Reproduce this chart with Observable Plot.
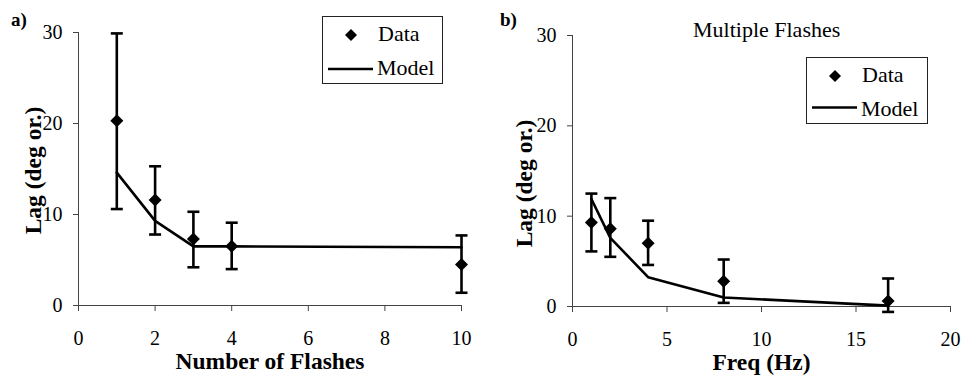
<!DOCTYPE html>
<html>
<head>
<meta charset="utf-8">
<script src="https://cdn.jsdelivr.net/npm/d3@7"></script>
<script src="https://cdn.jsdelivr.net/npm/@observablehq/plot@0.6"></script>
<style>
  body { margin: 0; background: #fff; }
  #wrap { position: relative; width: 963px; height: 379px; font-family: "Liberation Serif", "DejaVu Serif", serif; color: #000; overflow: hidden; }
  .panel { position: absolute; top: 0; }
  .panel svg text { font-family: "Liberation Serif", "DejaVu Serif", serif; }
  .tag { position: absolute; font-weight: bold; font-size: 19px; line-height: 1; }
  .title { position: absolute; font-size: 22px; line-height: 1; white-space: nowrap; }
  .legend { position: absolute; border: 1px solid #222; background: #fff; }
  .legend .row { position: absolute; font-size: 22px; line-height: 1; white-space: nowrap; }
  .legend svg { position: absolute; }
</style>
</head>
<body>
<div id="wrap"></div>
<script>
// ---- Panel a: Number of flashes ----
const flashesN = [1, 2, 3, 4, 10];
const flashesLag = [20.3, 11.6, 7.3, 6.5, 4.5];
const flashesLow = [10.6, 7.8, 4.2, 4.0, 1.4];
const flashesHigh = [29.9, 15.3, 10.3, 9.1, 7.7];
const flashesModel = [14.6, 9.3, 6.5, 6.5, 6.4];
const flashesTicks = [0, 2, 4, 6, 8, 10];

// ---- Panel b: Frequency ----
const freqHz = [1, 2, 4, 8, 16.7];
const freqLag = [9.3, 8.6, 7.0, 2.8, 0.6];
const freqLow = [6.1, 5.5, 4.6, 0.4, -0.6];
const freqHigh = [12.5, 12.0, 9.5, 5.2, 3.1];
const freqModel = [11.9, 7.6, 3.25, 1.0, 0.1];
const freqTicks = [0, 5, 10, 15, 20];

const lagTicks = [0, 10, 20, 30];

const FONT = "'Liberation Serif', 'DejaVu Serif', serif";

const diamondSym = {draw(ctx, size) {
  const r = Math.sqrt(size / Math.PI);
  ctx.moveTo(0, -r); ctx.lineTo(r, 0); ctx.lineTo(0, r); ctx.lineTo(-r, 0); ctx.closePath();
}};
const capSym = {draw(ctx, size) {
  const r = Math.sqrt(size / Math.PI);
  ctx.moveTo(-r, 0); ctx.lineTo(r, 0);
}};

function panel({xs, lag, lo, hi, model, xTicks, xDomain, xLabel, width, margins, yLabelDx, yLabelDy}) {
  const rows = xs.map((x, i) => ({x, lag: lag[i], lo: lo[i], hi: hi[i], model: model[i]}));
  return Plot.plot({
    width, height: 379,
    marginLeft: margins[0], marginRight: margins[1], marginTop: margins[2], marginBottom: margins[3],
    x: {domain: xDomain},
    y: {domain: [0, 30]},
    style: {fontFamily: FONT, fontSize: "20px", color: "#000", background: "#fff", overflow: "visible"},
    marks: [
      Plot.axisX({ticks: xTicks, tickSize: 6, tickPadding: 19, label: null, stroke: "#444", fontSize: 20}),
      Plot.axisY({ticks: lagTicks, tickSize: 5, tickPadding: 11, label: null, stroke: "#444", fontSize: 20}),
      Plot.ruleX([xDomain[0]], {stroke: "#444", strokeWidth: 1}),
      Plot.ruleY([0], {stroke: "#444", strokeWidth: 1}),
      Plot.line(rows, {x: "x", y: "model", stroke: "#000", strokeWidth: 2.6}),
      Plot.ruleX(rows, {x: "x", y1: "lo", y2: "hi", stroke: "#000", strokeWidth: 2.6}),
      Plot.dot(rows, {x: "x", y: "lo", symbol: capSym, r: 6, stroke: "#000", strokeWidth: 2.6, fill: "none"}),
      Plot.dot(rows, {x: "x", y: "hi", symbol: capSym, r: 6, stroke: "#000", strokeWidth: 2.6, fill: "none"}),
      Plot.dot(rows, {x: "x", y: "lag", symbol: diamondSym, r: 6.5, fill: "#000", stroke: "none"}),
      Plot.text([xLabel], {frameAnchor: "bottom", lineAnchor: "middle", textAnchor: "middle", dy: 56, text: d => d, fontWeight: "bold", fontSize: 23.5, fill: "#000"}),
      Plot.text(["Lag (deg or.)"], {frameAnchor: "left", lineAnchor: "middle", textAnchor: "middle", dx: yLabelDx, dy: yLabelDy, rotate: -90, text: d => d, fontWeight: "bold", fontSize: 23.5, fill: "#000"})
    ]
  });
}

const wrap = document.getElementById("wrap");

const pa = document.createElement("div");
pa.className = "panel"; pa.style.left = "0px";
pa.appendChild(panel({xs: flashesN, lag: flashesLag, lo: flashesLow, hi: flashesHigh, model: flashesModel,
  xTicks: flashesTicks, xDomain: [0, 10], xLabel: "Number of Flashes", width: 482, margins: [78, 21, 32, 74],
  yLabelDx: -45.5, yLabelDy: 1.5}));
wrap.appendChild(pa);

const pb = document.createElement("div");
pb.className = "panel"; pb.style.left = "482px";
pb.appendChild(panel({xs: freqHz, lag: freqLag, lo: freqLow, hi: freqHigh, model: freqModel,
  xTicks: freqTicks, xDomain: [0, 20], xLabel: "Freq (Hz)", width: 481, margins: [90, 13, 35, 73],
  yLabelDx: -48.5, yLabelDy: 12.5}));
wrap.appendChild(pb);

function addTag(text, left, top) {
  const d = document.createElement("div");
  d.className = "tag"; d.textContent = text;
  d.style.left = left + "px"; d.style.top = top + "px";
  wrap.appendChild(d);
}
addTag("a)", 11, 10);
addTag("b)", 500, 10);

const t = document.createElement("div");
t.className = "title"; t.textContent = "Multiple Flashes";
t.style.left = "693px"; t.style.top = "19px";
wrap.appendChild(t);

function addLegend(left, top, w, h, lineY) {
  const box = document.createElement("div");
  box.className = "legend";
  box.style.left = left + "px"; box.style.top = top + "px";
  box.style.width = w + "px"; box.style.height = h + "px";
  box.innerHTML = `
    <svg width="${w}" height="${h}" style="left:0;top:0">
      <path d="M28,12 L34,18 L28,24 L22,18 Z" fill="#000"/>
      <line x1="5" x2="50" y1="${lineY}" y2="${lineY}" stroke="#000" stroke-width="2.6"/>
    </svg>
    <div class="row" style="left:55px;top:6px">Data</div>
    <div class="row" style="left:54px;top:39.5px">Model</div>`;
  wrap.appendChild(box);
}
addLegend(322, 16, 119, 66, 52);
addLegend(806, 57, 120, 65, 49.5);
</script>
</body>
</html>
